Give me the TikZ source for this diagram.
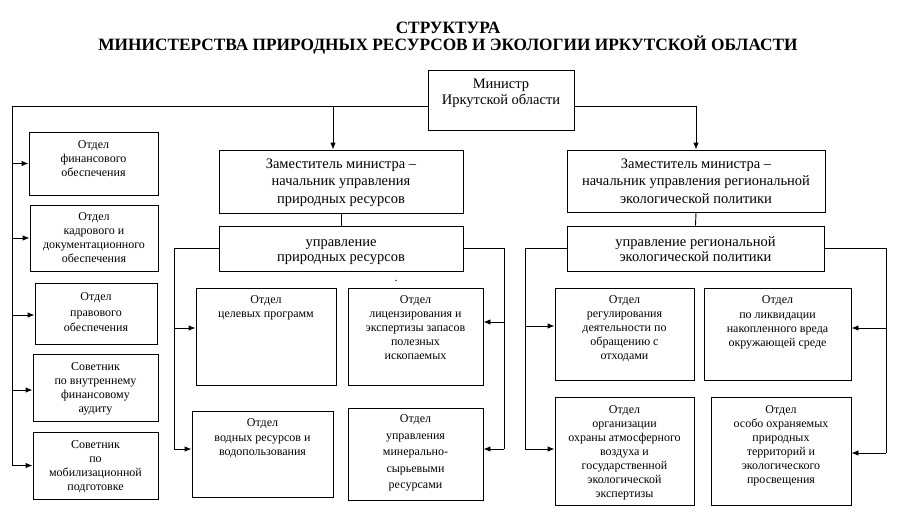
\documentclass[tikz,border=0pt]{standalone}
\usepackage{fontspec}
\setmainfont{Liberation Serif}
\usetikzlibrary{arrows.meta,fit,calc}
\tikzset{
  box/.style={draw, line width=0.9pt, inner sep=0pt},
  sm/.style={align=center, inner sep=0pt, font=\fontsize{12}{#1}\selectfont},
  bg/.style={align=center, inner sep=0pt, font=\fontsize{14.5}{#1}\selectfont},
  ttl/.style={align=center, inner sep=0pt, font=\fontsize{17.3}{17}\selectfont\bfseries},
  ln/.style={line width=0.9pt},
  arr/.style={line width=0.9pt, -{Latex[length=7pt,width=5.5pt]}}
}
\newcommand{\orgbox}[8]{%
  \coordinate (#1-a) at (#2,#3);
  \coordinate (#1-b) at (#4,#5);
  \node[box, fit={(#1-a) (#1-b)}] (#1) {};
  \node[#7, anchor=north] (#1-t) at ({(#2+#4)/2},{#6-11}) {\rule{0pt}{11pt}#8};
}
\begin{document}
\begin{tikzpicture}[x=1pt,y=-1pt]
\useasboundingbox (0,0) rectangle (900,523);
\node[ttl, anchor=base] (title) at (448,50) {СТРУКТУРА\\МИНИСТЕРСТВА ПРИРОДНЫХ РЕСУРСОВ И ЭКОЛОГИИ ИРКУТСКОЙ ОБЛАСТИ};

\orgbox{min}{428}{70}{574}{130}{88}{bg=16}{Министр\\Иркутской области}
\orgbox{dep1}{219}{150}{463}{213}{168}{bg=17.5}{Заместитель министра –\\начальник управления\\природных ресурсов}
\orgbox{dep2}{567}{150}{825}{212}{168}{bg=17.5}{Заместитель министра –\\начальник управления региональной\\экологической политики}
\orgbox{upr1}{219}{226}{463}{271}{246}{bg=15}{управление\\природных ресурсов}
\orgbox{upr2}{567}{226}{824}{271}{246}{bg=15}{управление региональной\\экологической политики}

\orgbox{fin}{29}{132}{158}{195}{148.5}{sm=14}{Отдел\\финансового\\обеспечения}
\orgbox{kadr}{30}{205}{158}{271}{220.5}{sm=14}{Отдел\\кадрового и\\документационного\\обеспечения}
\orgbox{prav}{35}{283}{157}{344}{300.5}{sm=15.5}{Отдел\\правового\\обеспечения}
\orgbox{audit}{33}{354}{158}{421}{370.5}{sm=14}{Советник\\по внутреннему\\финансовому\\аудиту}
\orgbox{mob}{33}{432}{158}{499}{448.5}{sm=14}{Советник\\по\\мобилизационной\\подготовке}

\orgbox{celev}{196}{288}{336}{385}{303.5}{sm=14}{Отдел\\целевых программ}
\orgbox{lic}{348}{288}{483}{385}{303.5}{sm=14}{Отдел\\лицензирования и\\экспертизы запасов\\полезных\\ископаемых}
\orgbox{vod}{192}{411}{333}{497}{426.5}{sm=14.5}{Отдел\\водных ресурсов и\\водопользования}
\orgbox{miner}{348}{408}{483}{500}{422.5}{sm=16.5}{Отдел\\управления\\минерально-\\сырьевыми\\ресурсами}

\orgbox{reg}{555}{288}{694}{380}{303.5}{sm=14}{Отдел\\регулирования\\деятельности по\\обращению с\\отходами}
\orgbox{likv}{704}{288}{851}{380}{303.5}{sm=14.3}{Отдел\\по ликвидации\\накопленного вреда\\окружающей среде}
\orgbox{org}{555}{397}{694}{505}{413.5}{sm=14}{Отдел\\организации\\охраны атмосферного\\воздуха и\\государственной\\экологической\\экспертизы}
\orgbox{oopt}{711}{397}{851}{505}{413.5}{sm=14}{Отдел\\особо охраняемых\\природных\\территорий и\\экологического\\просвещения}

\node[sm=12, anchor=base] (dot) at (396,281) {.};

% minister connectors
\coordinate (ml) at ([yshift=-6pt]min.west);
\coordinate (mr) at ([yshift=-6pt]min.east);
\coordinate (busL) at (12,465);
\draw[ln] (ml) -| (busL);
\draw[arr] ([xshift=-8pt]dep1.north |- ml) -- ([xshift=-8pt]dep1.north);
\draw[arr] (mr) -| (dep2.north);
\foreach \b in {fin,kadr,mob}
  \draw[arr] (\b.west -| busL) -- (\b.west);
\draw[arr] ([yshift=-1.5pt]prav.west -| busL) -- ([yshift=-1.5pt]prav.west);
\draw[arr] ([yshift=-2.5pt]audit.west -| busL) -- ([yshift=-2.5pt]audit.west);

\draw[ln] (dep1.south) -- (upr1.north);
\draw[ln] (dep2.south) -- (upr2.north);

% upravlenie 1
\coordinate (L1) at (174,449);
\coordinate (R1) at (504,449);
\draw[ln] (upr1.west) -| (L1);
\draw[ln] (upr1.east) -| (R1);
\draw[arr] ([yshift=8.5pt]celev.west -| L1) -- ([yshift=8.5pt]celev.west);
\draw[arr] ([yshift=5pt]vod.west -| L1) -- ([yshift=5pt]vod.west);
\draw[arr] ([yshift=14.5pt]lic.east -| R1) -- ([yshift=14.5pt]lic.east);
\draw[arr] ([yshift=5pt]miner.east -| R1) -- ([yshift=5pt]miner.east);

% upravlenie 2
\coordinate (L2) at (525,449);
\coordinate (R2) at (886,453);
\draw[ln] (upr2.west) -| (L2);
\draw[ln] (upr2.east) -| (R2);
\draw[arr] ([yshift=8pt]reg.west -| L2) -- ([yshift=8pt]reg.west);
\draw[arr] ([yshift=2pt]org.west -| L2) -- ([yshift=2pt]org.west);
\draw[arr] ([yshift=6pt]likv.east -| R2) -- ([yshift=6pt]likv.east);
\draw[arr] ([yshift=-2pt]oopt.east -| R2) -- ([yshift=-2pt]oopt.east);
\end{tikzpicture}
\end{document}
